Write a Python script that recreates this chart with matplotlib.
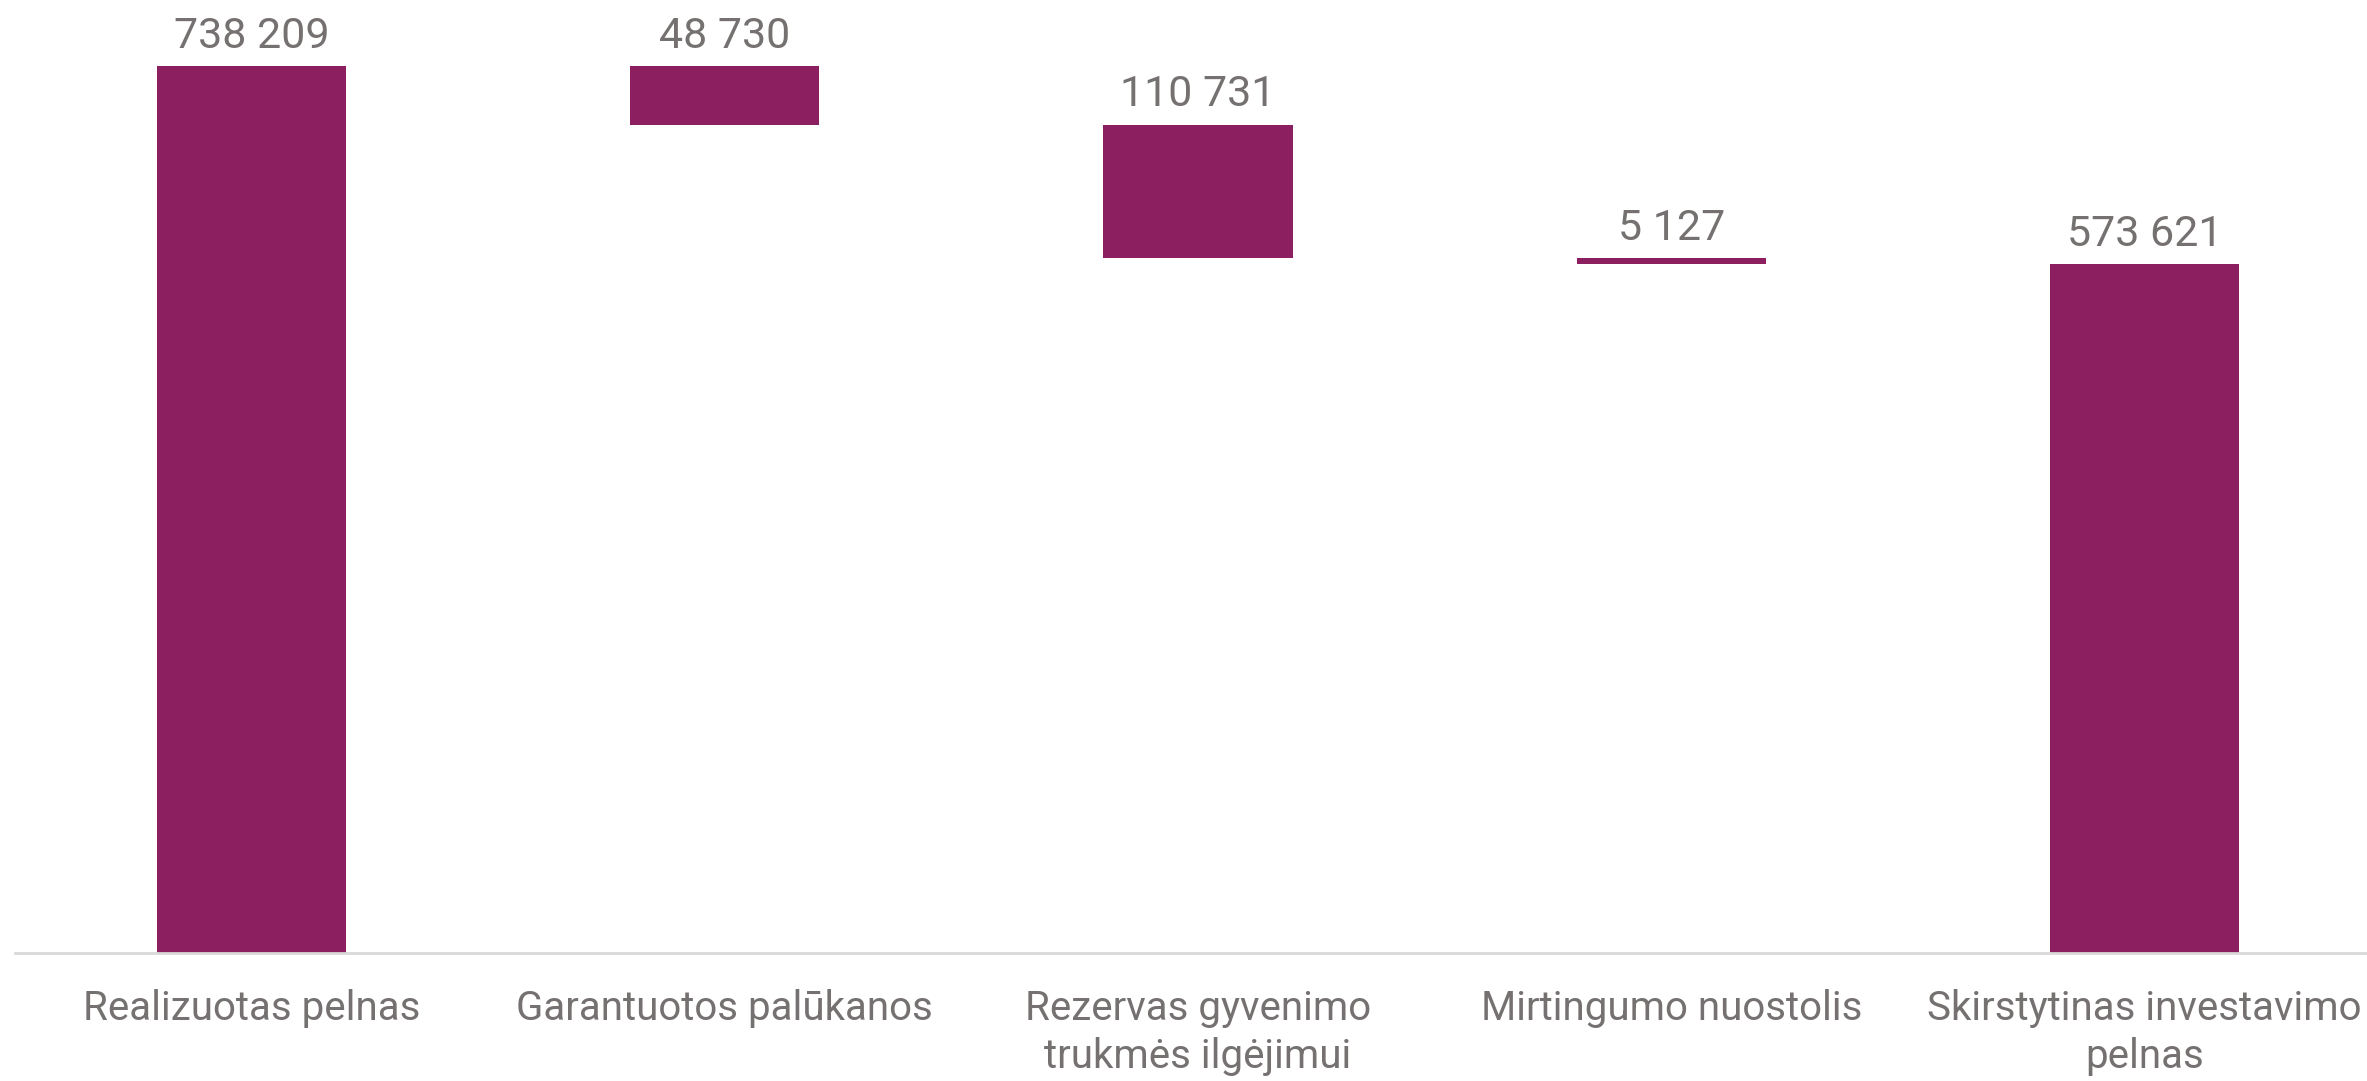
import matplotlib.pyplot as plt

# Waterfall data
categories = ['Realizuotas pelnas', 'Garantuotos palūkanos',
              'Rezervas gyvenimo\ntrukmės ilgėjimui', 'Mirtingumo nuostolis',
              'Skirstytinas investavimo\npelnas']
values = [738209, -48730, -110731, -5127, 573621]
is_total = [True, False, False, False, True]
labels = ['738 209', '48 730', '110 731', '5 127', '573 621']

bar_color = '#8B1F5F'
text_color = '#767171'

plt.rcParams['font.family'] = ['Roboto', 'DejaVu Sans']

fig = plt.figure(figsize=(23.67, 10.81), dpi=100)
ax = fig.add_axes([15 / 2367, 128 / 1081, 2366 / 2367, 953 / 1081])

# compute bar bottoms / heights
running = 0
bottoms, heights = [], []
for v, tot in zip(values, is_total):
    if tot:
        bottoms.append(0)
        heights.append(v)
        running = v
    else:
        new = running + v
        bottoms.append(min(running, new))
        heights.append(abs(v))
        running = new

x = list(range(len(categories)))
ax.bar(x, heights, bottom=bottoms, width=0.4, color=bar_color)

for xi, b, h, lab in zip(x, bottoms, heights, labels):
    ax.annotate(lab, (xi, b + h), xytext=(0, 13), textcoords='offset points',
                ha='center', va='baseline', fontsize=31, color=text_color)

ax.set_xlim(-0.5, 4.5)
ax.set_ylim(0, 738209 * 953 / 887)
ax.set_xticks(x)
ax.set_xticklabels(categories, fontsize=29, color=text_color, linespacing=1.3)
ax.tick_params(axis='x', length=0, pad=26)
ax.set_yticks([])
for side in ['top', 'left', 'right']:
    ax.spines[side].set_visible(False)
ax.spines['bottom'].set_color('#d9d9d9')
ax.spines['bottom'].set_linewidth(2)

fig.savefig('out.png', dpi=100)
